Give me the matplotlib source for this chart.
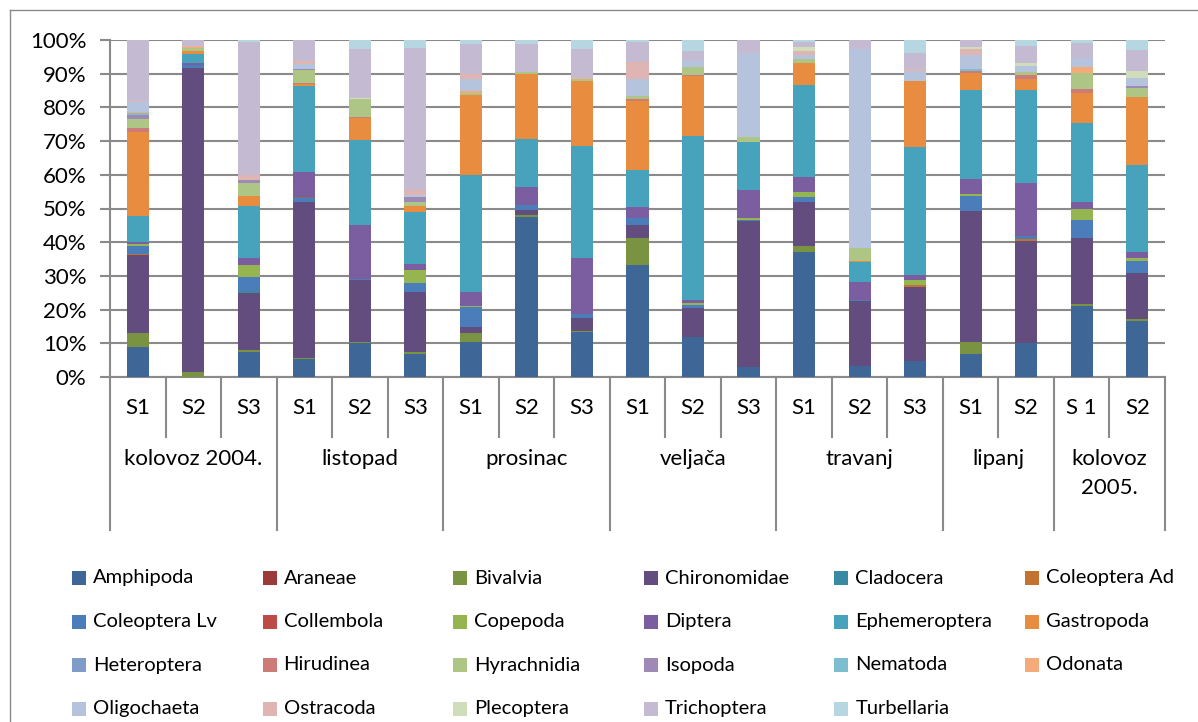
import numpy as np
import matplotlib
matplotlib.use('Agg')
import matplotlib.pyplot as plt
from matplotlib import transforms
from matplotlib.patches import Rectangle
from matplotlib.lines import Line2D

plt.rcParams['font.family'] = ['Lato', 'DejaVu Sans']

samples = ['S1', 'S2', 'S3', 'S1', 'S2', 'S3', 'S1', 'S2', 'S3', 'S1', 'S2', 'S3',
           'S1', 'S2', 'S3', 'S1', 'S2', 'S 1', 'S2']
months = ['kolovoz 2004.', 'listopad', 'prosinac', 'veljača', 'travanj', 'lipanj', 'kolovoz\n2005.']
month_sizes = [3, 3, 3, 3, 3, 2, 2]

taxa = ['Amphipoda', 'Araneae', 'Bivalvia', 'Chironomidae', 'Cladocera', 'Coleoptera Ad',
        'Coleoptera Lv', 'Collembola', 'Copepoda', 'Diptera', 'Ephemeroptera', 'Gastropoda',
        'Heteroptera', 'Hirudinea', 'Hyrachnidia', 'Isopoda', 'Nematoda', 'Odonata',
        'Oligochaeta', 'Ostracoda', 'Plecoptera', 'Trichoptera', 'Turbellaria']

# percentages per sample (19 samples)
amphipoda     = [9.0, 0, 7.5, 5.2, 10.0, 6.7, 10.5, 47.3, 13.2, 33.2, 11.8, 3.1, 36.9, 3.4, 4.8, 6.7, 10.0, 20.9, 16.6]
araneae       = [0, 0, 0, 0, 0, 0, 0, 0, 0, 0, 0, 0, 0, 0, 0, 0, 0, 0, 0]
bivalvia      = [4.0, 1.5, 0.5, 0.5, 0.3, 0.7, 2.5, 0.6, 0.5, 8.0, 0, 0, 2.0, 0, 0, 3.5, 0, 0.8, 0.7]
chironomidae  = [23.0, 89.5, 16.8, 46.0, 18.3, 17.9, 1.7, 1.7, 3.8, 4.0, 8.8, 43.1, 12.8, 19.0, 22.0, 38.9, 30.5, 19.4, 13.6]
cladocera     = [0, 0, 0.6, 0, 0, 0, 0, 0, 0, 0, 0, 0, 0, 0, 0, 0, 0, 0, 0]
coleoptera_ad = [0.3, 0, 0, 0, 0, 0, 0, 0, 0, 0, 0, 0, 0, 0, 0.4, 0, 0.4, 0, 0]
coleoptera_lv = [2.5, 0.8, 4.2, 1.3, 0.5, 2.5, 5.9, 1.2, 1.2, 1.8, 0.8, 0.4, 1.6, 0.5, 0, 4.4, 0.8, 5.5, 3.6]
collembola    = [0, 0, 0, 0.4, 0, 0, 0, 0, 0, 0, 0, 0, 0, 0, 0, 0, 0, 0, 0]
copepoda      = [0.4, 0, 3.6, 0, 0, 3.8, 0.4, 0, 0, 0, 0.5, 0.4, 1.6, 0, 1.6, 0.7, 0, 3.2, 0.8]
diptera       = [0.6, 0.5, 1.9, 7.2, 15.8, 1.8, 4.2, 5.5, 16.5, 3.4, 0.8, 8.3, 4.2, 5.2, 1.5, 4.3, 15.8, 2.0, 1.8]
ephemeroptera = [7.8, 2.7, 15.4, 25.2, 25.1, 15.4, 34.6, 14.2, 33.2, 11.1, 48.8, 14.2, 27.3, 5.9, 37.9, 26.4, 27.7, 23.5, 25.8]
gastropoda    = [24.6, 1.0, 3.1, 0.6, 6.5, 1.8, 23.7, 19.1, 19.3, 20.4, 17.6, 0, 6.5, 0.5, 19.5, 4.9, 3.2, 8.9, 20.1]
heteroptera   = [0, 0, 0, 0, 0, 0, 0, 0, 0, 0, 0, 0, 0, 0, 0, 0, 0, 0, 0]
hirudinea     = [1.2, 0, 0, 0.4, 0.5, 0, 0, 0, 0, 0.4, 0.4, 0, 0, 0, 0, 0.6, 1.1, 1.3, 0]
hyrachnidia   = [2.8, 0.8, 3.7, 3.7, 5.1, 1.3, 0.5, 0.8, 0.7, 1.0, 2.4, 1.6, 1.2, 3.8, 0, 0, 1.1, 4.5, 2.7]
isopoda       = [1.2, 0, 1.0, 0.5, 0, 1.4, 0, 0, 0, 0, 0, 0, 0, 0, 0, 0, 0, 0, 0.7]
nematoda      = [0.6, 0, 0, 0, 0, 0, 0, 0, 0, 0, 0, 0, 0, 0, 0, 0.7, 0, 0, 0]
odonata       = [0.3, 0.3, 0, 0, 0, 0, 0.6, 0, 0, 0, 0, 0, 0, 0, 0, 0, 0, 1.9, 0]
oligochaeta   = [3.2, 0, 0, 1.3, 0, 0.8, 3.7, 0, 0, 4.9, 1.7, 24.9, 1.3, 59.0, 3.0, 4.0, 1.6, 2.6, 2.1]
ostracoda     = [0.4, 0.3, 1.4, 1.0, 0, 1.2, 1.3, 0, 0.6, 5.2, 0, 0, 1.2, 0, 0.5, 1.8, 0, 0, 0]
plecoptera    = [0, 0, 0, 0, 0.5, 0, 0, 0, 0, 0, 0, 0, 1.2, 0, 0, 0.5, 1.0, 0, 2.3]
trichoptera   = [17.6, 1.8, 39.4, 6.2, 14.5, 42.3, 8.9, 8.1, 8.3, 5.9, 3.0, 3.8, 1.4, 2.6, 4.7, 2.2, 5.0, 4.6, 6.1]
turbellaria   = [0, 0, 0.6, 0, 2.6, 2.3, 1.3, 1.3, 2.6, 0.6, 3.3, 0, 0.6, 0, 4.0, 0, 1.8, 0.8, 3.0]

series = [amphipoda, araneae, bivalvia, chironomidae, cladocera, coleoptera_ad,
          coleoptera_lv, collembola, copepoda, diptera, ephemeroptera, gastropoda,
          heteroptera, hirudinea, hyrachnidia, isopoda, nematoda, odonata,
          oligochaeta, ostracoda, plecoptera, trichoptera, turbellaria]

colors = ['#3E6697', '#9A3B3A', '#7A9343', '#624D7E', '#388AA3', '#C4722F',
          '#4A7DBA', '#BC4A47', '#95B550', '#7A5E9F', '#47A3BB', '#E88D40',
          '#7F9BC8', '#CC7B79', '#ADC686', '#9E8AB4', '#7CBDD0', '#F5AA7A',
          '#B5C3DC', '#DFB5B4', '#CFDDBB', '#C4BAD1', '#B6D6E1']

W, H = 1198, 722
fig = plt.figure(figsize=(W / 100, H / 100), dpi=100)
ax = fig.add_axes([110 / W, 1 - 377 / H, 1055 / W, 337 / H])

# 100% stacked
data = np.array(series, dtype=float)
data = data / data.sum(axis=0) * 100
x = np.arange(len(samples))
bottom = np.zeros(len(samples))
for vals, c in zip(data, colors):
    ax.bar(x, vals, bottom=bottom, width=0.4, color=c, linewidth=0, zorder=3)
    bottom += vals

grid_c = '#8A8A8A'
ax.set_xlim(-0.5, len(samples) - 0.5)
ax.set_ylim(0, 100)
ax.set_yticks(np.arange(0, 101, 10))
ax.set_yticklabels([f'{v}%' for v in range(0, 101, 10)], fontsize=16)
ax.yaxis.grid(True, color=grid_c, linewidth=1.5, zorder=0)
ax.tick_params(axis='y', length=7, width=1.5, color=grid_c, pad=10)
ax.set_xticks([])
for s in ['top', 'right']:
    ax.spines[s].set_visible(False)
for s in ['left', 'bottom']:
    ax.spines[s].set_color(grid_c)
    ax.spines[s].set_linewidth(1.5)

# multi-level category axis
def fy(py):
    return 1 - py / H

trans = transforms.blended_transform_factory(ax.transData, fig.transFigure)
bounds = np.cumsum([0] + month_sizes) - 0.5
for i in range(1, len(samples)):
    xb = i - 0.5
    if xb not in bounds:
        ax.add_line(Line2D([xb, xb], [fy(377), fy(437)], transform=trans, color=grid_c,
                           lw=1.5, clip_on=False))
for xb in bounds:
    ax.add_line(Line2D([xb, xb], [fy(377), fy(530)], transform=trans, color=grid_c,
                       lw=1.5, clip_on=False))
for i, s in enumerate(samples):
    ax.text(i, fy(408), s, transform=trans, ha='center', va='center', fontsize=16)
for k, m in enumerate(months):
    xc = (bounds[k] + bounds[k + 1]) / 2
    ax.text(xc, fy(449), m, transform=trans, ha='center', va='top', fontsize=16,
            linespacing=1.55)

# legend (row-wise, like the original)
for i, (name, c) in enumerate(zip(taxa, colors)):
    row, col = divmod(i, 6)
    mx = 72 + col * 190.6
    my = 578 + row * 43.5
    fig.add_artist(Rectangle((mx / W, fy(my + 7)), 14 / W, 14 / H, transform=fig.transFigure,
                             color=c, linewidth=0))
    fig.text((mx + 21) / W, fy(my), name, ha='left', va='center', fontsize=14.5)

# chart border
fig.add_artist(Line2D([10 / W, 10 / W], [fy(10), 0], transform=fig.transFigure, color=grid_c, lw=1))
fig.add_artist(Line2D([10 / W, 1], [fy(10), fy(10)], transform=fig.transFigure, color=grid_c, lw=1))

fig.savefig('out.png', dpi=100)
